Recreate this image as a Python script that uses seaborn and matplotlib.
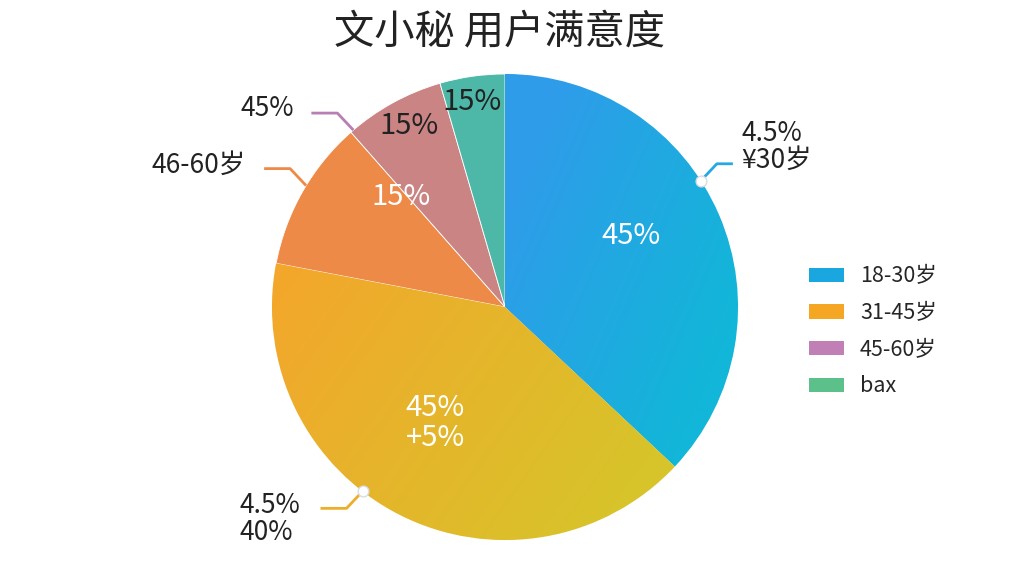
import numpy as np
import matplotlib
matplotlib.use('Agg')
import matplotlib.pyplot as plt
import matplotlib.colors as mcolors
from matplotlib.patches import Patch
import seaborn as sns

sns.set_theme(style='white')
plt.rcParams['font.family'] = ['Noto Sans CJK SC', 'DejaVu Sans']

# ---- data ----
title = '文小秘 用户满意度'
slice_shares = [37, 41, 10.5, 7, 4.5]          # blue, yellow, orange, pink, teal
slice_colors = ['#22A9E3', '#EDAE2A', '#EE8A48', '#CB8484', '#4DB8A8']
inner_labels = ['45%', '45%\n+5%', '15%', '15%', '15%']
outer_labels = ['4.5%\n¥30岁', '4.5%\n40%', '46-60岁', '45%', None]
legend_labels = ['18-30岁', '31-45岁', '45-60岁', 'bax']
legend_colors = ['#1AA7E0', '#F5A623', '#C07FB5', '#5BC08A']

# ---- layout ----
W, H = 1024, 576
cx, cy, R = 505, H - 307, 233

fig = plt.figure(figsize=(10.24, 5.76), dpi=100)
ax = fig.add_axes([0, 0, 1, 1])

wedges, _ = ax.pie(slice_shares, colors=slice_colors, startangle=90, counterclock=False,
                   center=(cx, cy), radius=R, frame=True,
                   wedgeprops=dict(edgecolor='white', linewidth=0.6))
ax.set_xlim(0, W)
ax.set_ylim(0, H)
ax.set_aspect('equal')
ax.axis('off')


def gradient_fill(wedge, c0, c1, p0, p1):
    n = 300
    xs = np.linspace(cx - R, cx + R, n)
    ys = np.linspace(cy - R, cy + R, n)
    X, Y = np.meshgrid(xs, ys)
    d = np.array(p1) - np.array(p0)
    t = ((X - p0[0]) * d[0] + (Y - p0[1]) * d[1]) / (d @ d)
    t = np.clip(t, 0, 1)[..., None]
    a = np.array(mcolors.to_rgb(c0))
    b = np.array(mcolors.to_rgb(c1))
    img = a + t * (b - a)
    im = ax.imshow(img, extent=(cx - R, cx + R, cy - R, cy + R), origin='lower',
                   zorder=wedge.get_zorder() + 0.1, interpolation='bilinear')
    im.set_clip_path(wedge)


# blue and yellow slices are shaded in the reference
gradient_fill(wedges[0], '#2F9CEA', '#12B6D8', (cx, cy + 100), (cx + R, cy))
gradient_fill(wedges[1], '#F3A72C', '#D6C52A', (cx - R, cy + 20), (cx + 120, cy - R))

# inner labels: (radius fraction, angle nudge in degrees, colour)
inner_pos = [(0.62, 6, 'white'), (0.58, -4, 'white'), (0.65, -17, 'white'),
             (0.88, -1, '#222222'), (0.89, 1, '#222222')]
for w, lab, (rf, nudge, col) in zip(wedges, inner_labels, inner_pos):
    ang = np.deg2rad((w.theta1 + w.theta2) / 2 + nudge)
    ax.text(cx + rf * R * np.cos(ang), cy + rf * R * np.sin(ang), lab,
            ha='center', va='center', color=col, fontsize=21, linespacing=1.0, zorder=5)

# outer labels with elbow leader lines: (anchor angle, side, dot, text x, text y)
outer_pos = [(32.8, 1, True, 741, 147), (-127.7, -1, True, 239, 519),
             (148.6, -1, False, 246, 165), (130.6, -1, False, 294, 108)]
for w, lab, col, (ang_d, side, dot, tx, ty) in zip(wedges, outer_labels, slice_colors, outer_pos):
    if lab is None:
        continue
    ang = np.deg2rad(ang_d)
    ax0, ay0 = cx + R * np.cos(ang), cy + R * np.sin(ang)
    up = 1 if np.sin(ang) > 0 else -1
    ex, ey = ax0 + side * 16, ay0 + up * 17
    hx = ex + side * 26
    line_col = '#B77FB3' if ang_d == 130.6 else col
    if ang_d == 32.8:
        line_col = '#26A9E0'
        hx = ex + side * 16
    ax.plot([ax0, ex, hx], [ay0, ey, ey], color=line_col, lw=2, solid_capstyle='butt', zorder=6)
    if dot:
        ax.scatter([ax0], [ay0], s=60, color='white', edgecolor='#D8DDE2', linewidth=1, zorder=7)
    ha = 'left' if side > 0 or '\n' in lab else 'right'
    ax.text(tx, H - ty, lab, ha=ha, va='center', fontsize=19, color='#222222',
            linespacing=1.0, zorder=6)

ax.text(W / 2 - 12, H - 32, title, ha='center', va='center', fontsize=29, color='#222222')

handles = [Patch(facecolor=c, edgecolor='none') for c in legend_colors]
fig.legend(handles, legend_labels, loc='upper left', bbox_to_anchor=(790 / W, 1 - 246 / H),
           frameon=False, fontsize=15.5, handlelength=1.6, handleheight=0.65,
           labelspacing=0.68, handletextpad=0.75)

fig.savefig('out.png', dpi=100, facecolor='white')
